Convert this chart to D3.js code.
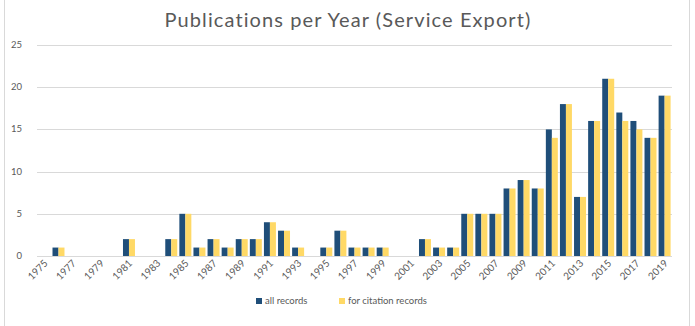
<!DOCTYPE html>
<html>
<head>
<meta charset="utf-8">
<script src="https://cdn.jsdelivr.net/npm/d3@7"></script>
<style>
  body { margin: 0; background: #fff; }
  text { font-family: Lato, "Open Sans", sans-serif; fill: #595959; }
</style>
</head>
<body>
<div id="chart"></div>
<script>
// years 1975..2019
var years = d3.range(1975, 2020);
var allRecords = [0,1,0,0,0,0,2,0,0,2,5,1,2,1,2,2,4,3,1,0,1,3,1,1,1,0,0,2,1,1,5,5,5,8,9,8,15,18,7,16,21,17,16,14,19];
var citationRecords = [0,1,0,0,0,0,2,0,0,2,5,1,2,1,2,2,4,3,1,0,1,3,1,1,1,0,0,2,1,1,5,5,5,8,9,8,14,18,7,16,21,16,15,14,19];
var seriesNames = ["all records", "for citation records"];
var colors = ["#1F4E79", "#FFD966"];
var yTicks = [0, 5, 10, 15, 20, 25];

var w = 695, h = 326;
var plotLeft = 37, plotRight = 672, plotTop = 45, plotBottom = 256;

var svg = d3.select("#chart").append("svg")
  .attr("width", w)
  .attr("height", h);

// outer frame
svg.append("rect")
  .attr("x", 4.5).attr("y", -1)
  .attr("width", 685).attr("height", 340)
  .attr("fill", "none")
  .attr("stroke", "#d9d9d9");

var xScale = d3.scaleBand()
  .domain(years)
  .range([plotLeft, plotRight])
  .paddingInner(0.15)
  .paddingOuter(0.1);

var x1 = d3.scaleBand()
  .domain([0, 1])
  .range([0, xScale.bandwidth()]);

var yScale = d3.scaleLinear()
  .domain([0, 25])
  .range([plotBottom, plotTop]);

// gridlines
svg.append("g")
  .selectAll("line")
  .data(yTicks)
  .enter()
  .append("line")
  .attr("x1", plotLeft)
  .attr("x2", plotRight)
  .attr("y1", function(d) { return Math.round(yScale(d)) + 0.5; })
  .attr("y2", function(d) { return Math.round(yScale(d)) + 0.5; })
  .attr("stroke", "#d9d9d9");

// y labels
svg.append("g")
  .selectAll("text")
  .data(yTicks)
  .enter()
  .append("text")
  .attr("x", 22)
  .attr("y", function(d) { return yScale(d) + 3; })
  .attr("text-anchor", "end")
  .style("font-size", "9.5px")
  .text(function(d) { return d; });

// bars
var groups = svg.append("g")
  .selectAll("g")
  .data(years)
  .enter()
  .append("g")
  .attr("transform", function(d) { return "translate(" + xScale(d) + ",0)"; });

groups.selectAll("rect")
  .data(function(d, i) { return [allRecords[i], citationRecords[i]]; })
  .enter()
  .append("rect")
  .attr("x", function(d, j) { return x1(j); })
  .attr("y", function(d) { return yScale(d); })
  .attr("width", x1.bandwidth())
  .attr("height", function(d) { return plotBottom - yScale(d); })
  .attr("fill", function(d, j) { return colors[j]; });

// x labels
svg.append("g")
  .selectAll("text")
  .data(years.filter(function(d) { return (d - 1975) % 2 == 0; }))
  .enter()
  .append("text")
  .attr("text-anchor", "end")
  .attr("transform", function(d) {
    return "translate(" + (xScale(d) + xScale.bandwidth() / 2 + 4) + "," + (plotBottom + 8) + ")rotate(-45)";
  })
  .style("font-size", "10px")
  .text(function(d) { return d; });

// title
svg.append("text")
  .attr("x", 348)
  .attr("y", 27)
  .attr("text-anchor", "middle")
  .style("font-size", "20px")
  .style("letter-spacing", "1.1px")
  .text("Publications per Year (Service Export)");

// legend
var legend = svg.append("g");
var legendX = [256, 339];
seriesNames.forEach(function(name, i) {
  legend.append("rect")
    .attr("x", legendX[i])
    .attr("y", 298)
    .attr("width", 6)
    .attr("height", 6)
    .attr("fill", colors[i]);
  legend.append("text")
    .attr("x", legendX[i] + 9)
    .attr("y", 304)
    .style("font-size", "9.5px")
    .text(name);
});
</script>
</body>
</html>
